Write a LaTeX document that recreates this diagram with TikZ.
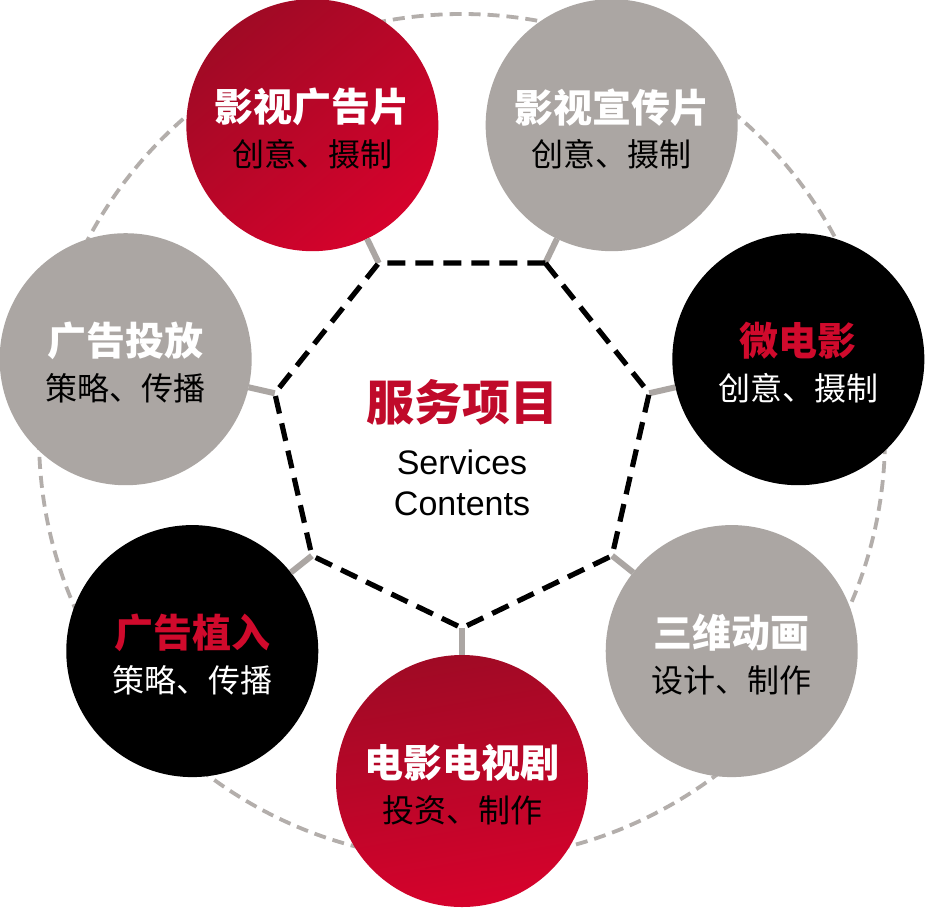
\documentclass[tikz,border=0pt]{standalone}
\usepackage{fontspec}
\newfontfamily\cjk{Noto Sans CJK SC}
\newfontfamily\lsans{Liberation Sans}
\definecolor{rdark}{HTML}{A00A25}
\definecolor{rbright}{HTML}{D6022C}
\definecolor{cgray}{HTML}{ABA6A3}
\definecolor{ringgray}{HTML}{B3AEAB}
\definecolor{tred}{HTML}{C00A2A}
\definecolor{ttred}{HTML}{D00A2C}
\begin{document}
\begin{tikzpicture}[x=1pt,y=-1pt,
  bub/.style={circle,minimum size=252pt,inner sep=0pt,outer sep=0pt},
  redbub/.style={bub,top color=rdark,bottom color=rbright},
  graybub/.style={bub,fill=cgray},
  blackbub/.style={bub,fill=black},
  ttl/.style={font=\cjk\bfseries\fontsize{39}{39}\selectfont,inner sep=0pt},
  subt/.style={font=\cjk\fontsize{32}{32}\selectfont,inner sep=0pt},
  conn/.style={draw=cgray,line width=6pt},
  hept/.style={draw=black,line width=5.2pt,dash pattern=on 18pt off 10pt,fill=white,line join=miter},
  ring/.style={draw=ringgray,line width=3.8pt,dash pattern=on 12pt off 7pt}]
\useasboundingbox (0,0) rectangle (928,910);
\fill[white] (0,0) rectangle (928,910);
\coordinate (O) at (462,436);
\draw[ring] (462,437) circle[radius=423pt];
% heptagon vertices
\foreach \i/\a in {1/64.29,2/115.71,3/167.14,4/218.57,5/270,6/321.43,7/372.86}{
  \coordinate (v\i) at ([shift={(-\a:192)}]O);
}
% bubbles
\node[graybub] (c1) at ([shift={(-64.29:345)}]O) {};
\node[redbub,shading angle=40] (c2) at ([shift={(-115.71:345)}]O) {};
\node[graybub] (c3) at ([shift={(-167.14:345)}]O) {};
\node[blackbub] (c4) at ([shift={(-218.57:345)}]O) {};
\node[redbub,shading angle=10] (c5) at ([shift={(-270:345)}]O) {};
\node[graybub] (c6) at ([shift={(-321.43:345)}]O) {};
\node[blackbub] (c7) at ([shift={(-372.86:345)}]O) {};
% connectors
\foreach \i in {1,...,7}{ \draw[conn] (v\i) -- (c\i); }
% heptagon
\draw[hept] (v1) -- (v2) -- (v3) -- (v4) -- (v5) -- (v6) -- (v7) -- cycle;
% texts
\node[ttl,white] (t1) at ([yshift=18pt]c1.center) {影视宣传片};
\node[subt,black] (s1) at ([yshift=-29pt]c1.center) {创意、摄制};
\node[ttl,white] (t2) at ([yshift=18pt]c2.center) {影视广告片};
\node[subt,black] (s2) at ([yshift=-29pt]c2.center) {创意、摄制};
\node[ttl,white] (t3) at ([yshift=18pt]c3.center) {广告投放};
\node[subt,black] (s3) at ([yshift=-29pt]c3.center) {策略、传播};
\node[ttl,ttred] (t4) at ([yshift=18pt]c4.center) {广告植入};
\node[subt,white] (s4) at ([yshift=-29pt]c4.center) {策略、传播};
\node[ttl,white] (t5) at ([yshift=18pt]c5.center) {电影电视剧};
\node[subt,black] (s5) at ([yshift=-29pt]c5.center) {投资、制作};
\node[ttl,white] (t6) at ([yshift=18pt]c6.center) {三维动画};
\node[subt,black] (s6) at ([yshift=-29pt]c6.center) {设计、制作};
\node[ttl,ttred] (t7) at ([yshift=18pt]c7.center) {微电影};
\node[subt,white] (s7) at ([yshift=-29pt]c7.center) {创意、摄制};
% centre
\node[font=\cjk\bfseries\fontsize{48}{48}\selectfont,text=tred,inner sep=0pt] (t0) at (462,402) {服务项目};
\node[font=\lsans\fontsize{34}{41}\selectfont,align=center,inner sep=0pt] (s0) at (462,483) {Services\\Contents};
\end{tikzpicture}
\end{document}
